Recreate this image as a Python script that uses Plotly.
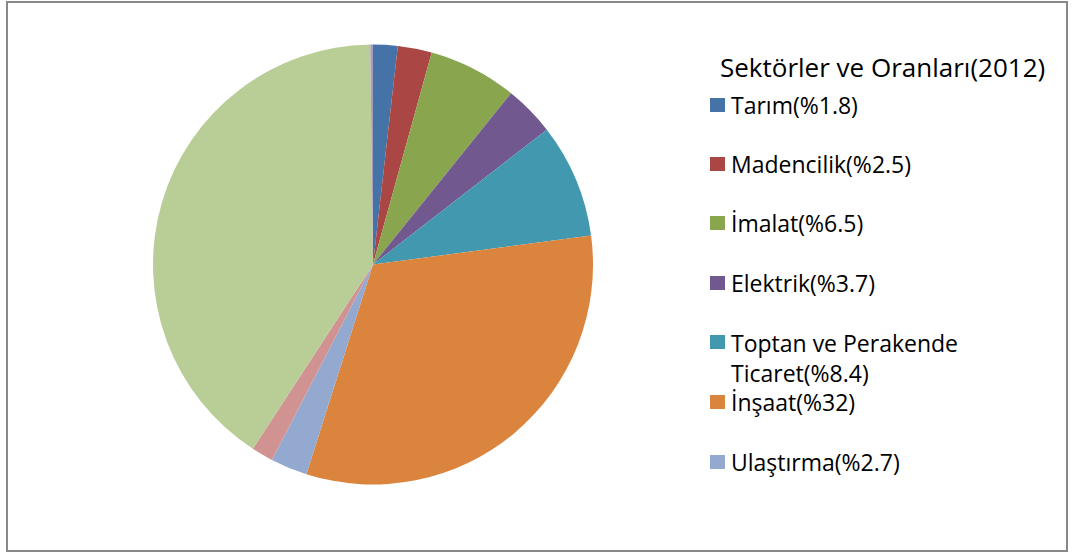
import plotly.graph_objects as go

# Data
sectors = ["Tarım", "Madencilik", "İmalat", "Elektrik", "Toptan ve Perakende Ticaret",
           "İnşaat", "Ulaştırma", "Oteller", "Hizmetler", "Diğer"]
shares = [1.8, 2.5, 6.5, 3.7, 8.4, 32, 2.7, 1.6, 40.6, 0.2]
colors = ["#4572A7", "#AA4643", "#89A54E", "#71588F", "#4198AF",
          "#DB843D", "#93A9CF", "#D19392", "#B9CD96", "#A99BBD"]
legend_title = "Sektörler ve Oranları(2012)"
n_legend = 7  # number of entries visible in the legend

W, H = 1074, 553

def px_x(x):
    return x / W

def px_y(y):
    return 1 - y / H

fig = go.Figure()
fig.add_trace(go.Pie(
    labels=sectors,
    values=shares,
    sort=False,
    direction="clockwise",
    rotation=0,
    textinfo="none",
    marker=dict(colors=colors, line=dict(width=0)),
    showlegend=False,
    domain=dict(x=[px_x(153), px_x(593)], y=[px_y(485), px_y(44)]),
))

shapes = [dict(type="rect", xref="paper", yref="paper",
               x0=px_x(7), x1=px_x(1067), y0=px_y(551), y1=px_y(2),
               line=dict(color="#888888", width=2), fillcolor="rgba(0,0,0,0)")]
annotations = [dict(text=legend_title, xref="paper", yref="paper",
                    x=px_x(718), y=px_y(67), xanchor="left", yanchor="middle",
                    showarrow=False, font=dict(size=26, color="#000000"))]

item_y = [105, 164, 223, 283, 342, 402, 462]
for i in range(n_legend):
    label = sectors[i]
    if label == "Toptan ve Perakende Ticaret":
        txt = f"Toptan ve Perakende<br>Ticaret(%{shares[i]})"
        ty = item_y[i] + 16
    else:
        txt = f"{label}(%{shares[i]:g})"
        ty = item_y[i]
    yc = item_y[i]
    shapes.append(dict(type="rect", xref="paper", yref="paper",
                       x0=px_x(710), x1=px_x(725), y0=px_y(yc + 7), y1=px_y(yc - 7),
                       line=dict(width=0), fillcolor=colors[i]))
    annotations.append(dict(text=txt, xref="paper", yref="paper",
                            x=px_x(729), y=px_y(ty), xanchor="left", yanchor="middle",
                            align="left", showarrow=False,
                            font=dict(size=23, color="#000000")))

fig.update_layout(
    width=W, height=H,
    margin=dict(l=0, r=0, t=0, b=0),
    paper_bgcolor="white",
    plot_bgcolor="white",
    font=dict(family="'Open Sans', sans-serif", color="#000000"),
    shapes=shapes,
    annotations=annotations,
)

fig.write_html("out.html", config={"displayModeBar": False},
               post_script="document.body.style.margin='0';")
